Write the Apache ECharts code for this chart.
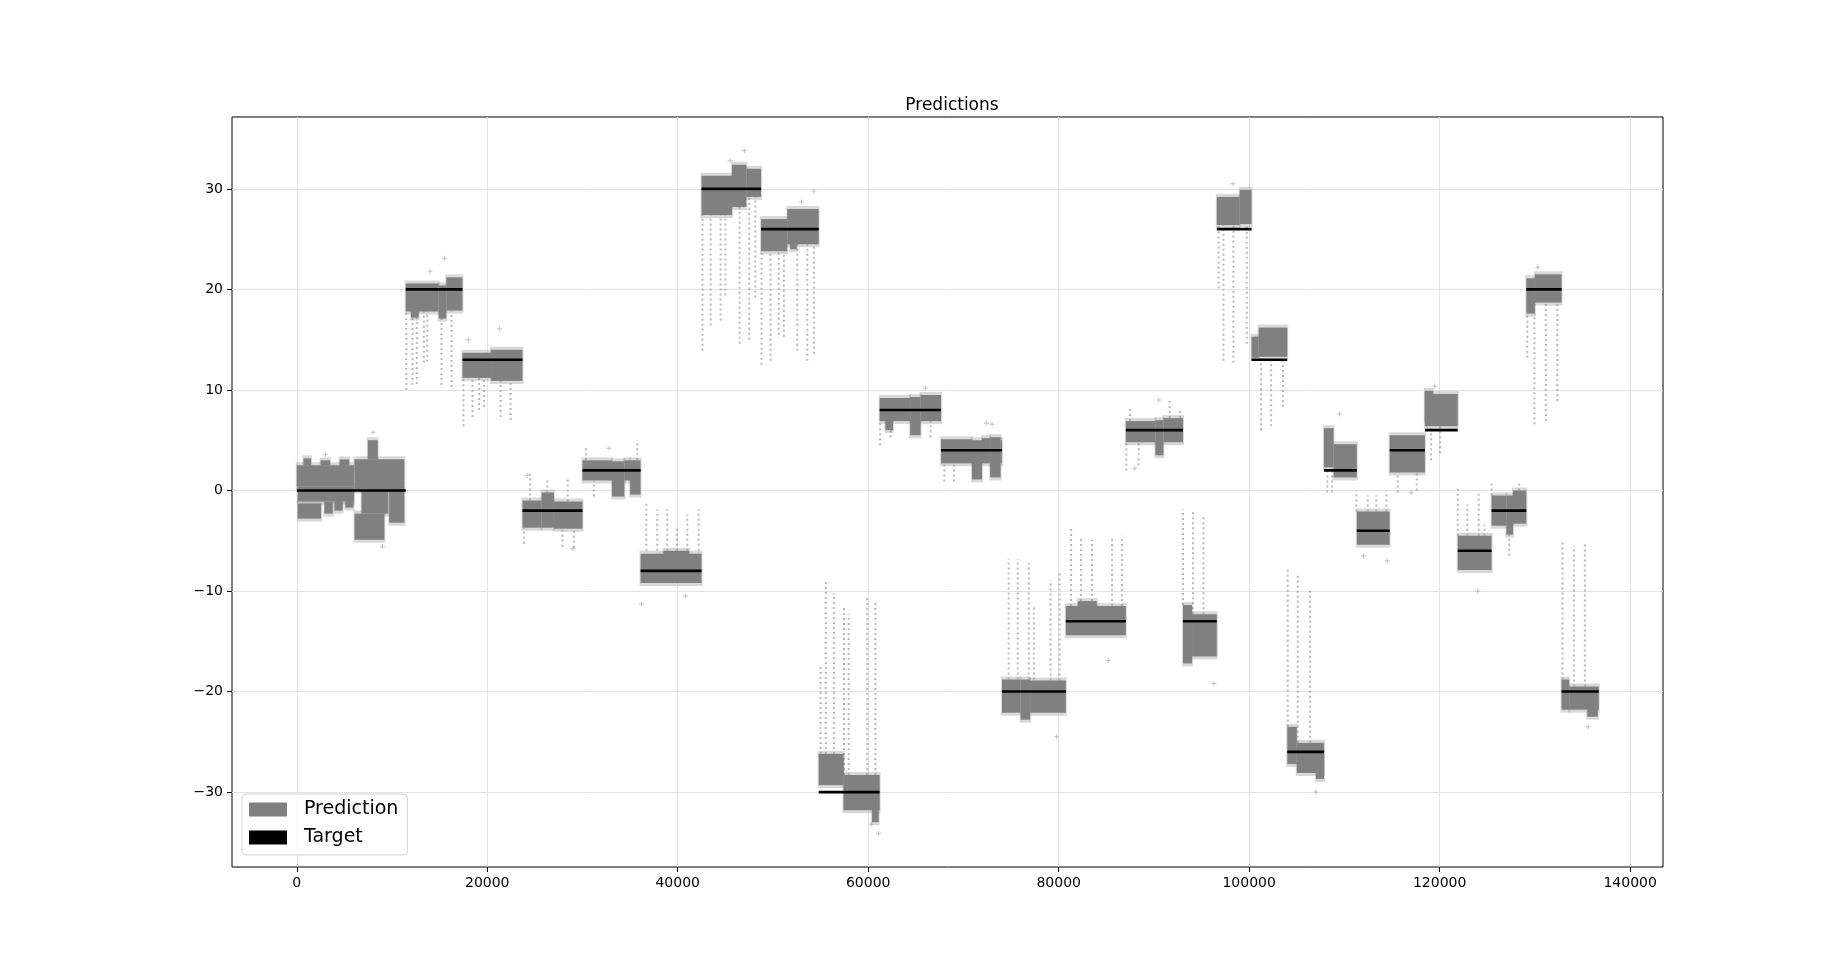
<!DOCTYPE html>
<html>

<head>
	<meta charset="UTF-8" />
	<title>Predictions</title>
	<style type="text/css">
		* {
			margin: 0;
			padding: 0;
		}

		#main {
			width: 1848px;
			height: 974px;
			background-color: #fff;
		}
	</style>
</head>

<body>
	<div id="main"></div>
</body>
<script src="https://cdn.jsdelivr.net/npm/echarts@6.0.0/dist/echarts.min.js"></script>
<script type="text/javascript">
	// tick labels
	var xTicks = [0, 20000, 40000, 60000, 80000, 100000, 120000, 140000]
	var yTicks = [-30, -20, -10, 0, 10, 20, 30]

	// target level per segment: [start, end, target]
	var segStart = [0, 11440, 17400, 23700, 30000, 36100, 42500, 48750, 54800, 61200, 67650, 74050, 80750,
		87050, 93050, 96600, 100250, 104000, 107850, 111300, 114750, 118450, 121900, 125450, 129100, 132800]
	var segEnd = [11440, 17400, 23700, 30000, 36100, 42500, 48750, 54800, 61200, 67650, 74050, 80750, 87050,
		93050, 96600, 100250, 104000, 107850, 111300, 114750, 118450, 121900, 125450, 129100, 132800, 136700]
	var targets = [0, 20, 13, -2, 2, -8, 30, 26, -30, 8, 4, -20, -13,
		6, -13, 26, 13, -26, 2, -4, 4, 6, -6, -2, 20, -20]

	// dense prediction bands: [x0, x1, low, high]
	var predBlocks = [
		// seg 1
		[0, 6000, 0.4, 2.5], [700, 1500, 2.5, 3.2], [2500, 3500, 2.5, 3.0], [4500, 5500, 2.5, 3.1],
		[100, 2560, -2.8, -1.3], [2900, 3780, -2.3, -1.1], [3950, 4820, -2.0, -0.9], [5100, 5960, -1.7, -0.5],
		[100, 6000, -1.1, 0.4],
		[6060, 11300, 0.0, 3.1], [6060, 9200, -4.9, -2.3], [6800, 9600, -2.3, 0.0], [7460, 8510, 3.1, 5.0],
		[9700, 11300, -3.2, 0.0],
		// seg 2
		[11440, 14900, 17.8, 20.6], [14900, 15700, 17.1, 20.4], [15700, 17400, 17.9, 21.2], [12000, 12800, 17.2, 18],
		// seg 3
		[17400, 20400, 11.2, 13.7], [20400, 23700, 10.9, 14.0],
		// seg 4
		[23700, 25700, -3.7, -1.0], [25700, 27000, -3.7, -0.2], [27000, 30000, -3.8, -1.1],
		// seg 5
		[30000, 33100, 1.0, 3.0], [33100, 34400, -0.6, 2.9], [34400, 35000, 1.0, 3.0], [35000, 36100, -0.4, 3.0],
		// seg 6
		[36100, 42500, -9.2, -6.3], [38500, 41200, -7.0, -6.0],
		// seg 7
		[42500, 45700, 27.4, 31.3], [45700, 47200, 28.2, 32.4], [47200, 48750, 29.2, 32.0],
		// seg 8
		[48750, 51500, 23.8, 27.0], [51500, 54800, 24.5, 28.0], [51800, 52500, 24.0, 25],
		// seg 9
		[54800, 57400, -29.3, -26.2], [57400, 61200, -31.8, -28.3], [56900, 57400, -29, -26.6], [60400, 61100, -33, -31],
		// seg 10
		[61200, 64400, 6.9, 9.2], [64400, 65500, 5.5, 9.3], [65500, 67650, 6.9, 9.5], [61800, 62600, 6.0, 7],
		// seg 11
		[67650, 70900, 2.7, 5.1], [70900, 71950, 1.1, 5.0], [71950, 72800, 2.7, 5.2], [72800, 73900, 1.3, 5.3],
		[73900, 74050, 2.7, 5.0],
		// seg 12
		[74050, 76000, -22.1, -18.8], [76000, 77000, -22.8, -18.8], [77000, 80750, -22.1, -18.9],
		// seg 13
		[80750, 87050, -14.4, -11.5], [82000, 84000, -11.5, -11.0],
		// seg 14
		[87050, 90150, 4.8, 6.9], [90150, 91000, 3.5, 7.0], [91000, 93050, 4.8, 7.2],
		// seg 15
		[93050, 94000, -17.2, -11.4], [94000, 96600, -16.5, -12.3],
		// seg 16
		[96600, 99000, 26.4, 29.2], [99000, 100250, 26.5, 29.9],
		// seg 17
		[100250, 101000, 13.2, 15.3], [101000, 104000, 13.3, 16.2],
		// seg 18
		[104000, 105000, -27.2, -23.5], [105000, 107850, -28.1, -25.1], [107000, 107850, -28.7, -26],
		// seg 19
		[107850, 108860, 2.3, 6.2], [108860, 111300, 1.3, 4.6],
		// seg 20
		[111300, 114750, -5.4, -2.1],
		// seg 21
		[114750, 118450, 1.8, 5.5],
		// seg 22
		[118450, 121900, 6.4, 9.6], [118450, 119300, 7.0, 9.9],
		// seg 23
		[121900, 125450, -7.9, -4.5],
		// seg 24
		[125450, 127000, -3.5, -0.5], [127000, 127700, -4.4, -0.5], [127700, 129100, -3.3, 0.0],
		// seg 25
		[129100, 130000, 17.6, 21.1], [130000, 132800, 18.7, 21.5],
		// seg 26
		[132800, 133600, -21.8, -18.8], [133600, 136700, -21.8, -19.5], [135500, 136600, -22.5, -20]
	]

	// sparse vertical streaks of predictions: [x, low, high]
	var streaks = [
		[11500, 10.0, 17.8], [12150, 10.5, 17.8], [12600, 10.6, 17.8], [13350, 12.7, 17.8], [13700, 12.8, 17.8],
		[15200, 10.5, 17.5], [16250, 10.3, 17.8],
		[17500, 6.4, 11.3], [18450, 7.3, 11.3], [19150, 8.0, 11.3], [19650, 8.3, 11.3], [21400, 7.3, 11], [22450, 7.0, 11],
		[24500, -1.0, 2.0], [26300, -0.2, 1.2], [28450, -1.1, 1.2], [23850, -5.3, -3.7], [27900, -5.6, -3.7], [29100, -5.7, -3.8],
		[31200, -0.6, 1.0], [35400, -0.3, 1.0], [30350, 3.0, 4.5], [35750, 3.0, 4.8],
		[36700, -6.5, -1.2], [37850, -6.5, -1.9], [38900, -6.5, -1.9], [39900, -6.5, -3.5], [41000, -6.5, -2.4], [42200, -6.5, -1.9],
		[42600, 13.9, 27.4], [43450, 16.4, 27.4], [44500, 16.9, 27.4], [45000, 19.4, 27.4], [46500, 14.6, 28.2],
		[47500, 15.0, 29.2], [48150, 19.2, 29.2],
		[48800, 12.5, 23.8], [49750, 12.9, 23.8], [50600, 15.5, 23.8], [51150, 15.3, 23.8], [52550, 13.9, 24.5],
		[53600, 12.9, 24.5], [54300, 13.6, 24.5],
		[55000, -26.2, -17.4], [55550, -26.2, -8.9], [56400, -26.2, -10.2], [57450, -28.3, -11.6], [57950, -28.3, -12.3],
		[59900, -28.3, -10.5], [60750, -28.3, -11.2],
		[61250, 4.5, 6.9], [62350, 5.3, 6.9], [66550, 5.3, 6.9],
		[68000, 0.9, 2.7], [69000, 0.9, 2.7],
		[74750, -18.8, -6.8], [75700, -18.8, -6.8], [76850, -18.8, -7.2], [77400, -18.8, -11.4], [79150, -18.9, -8.9],
		[80100, -18.9, -8.2],
		[81300, -11.5, -3.8], [82350, -11.5, -4.7], [83500, -11.5, -4.9], [85600, -11.5, -4.7], [86650, -11.5, -4.5],
		[87100, 2.0, 4.8], [88400, 2.5, 4.8], [87500, 6.9, 8.2], [91650, 7.2, 9.0], [92750, 7.2, 8.1],
		[93050, -11.4, -1.9], [94100, -12.3, -1.9], [95200, -12.3, -2.6],
		[96800, 20.1, 26.4], [97300, 12.9, 26.4], [98350, 12.7, 26.4], [99750, 14.6, 26.5],
		[101250, 6.0, 13.3], [102300, 6.4, 13.3], [103550, 8.3, 13.3],
		[104050, -23.5, -7.9], [105100, -25.1, -8.4], [106400, -25.1, -9.8],
		[108200, -0.2, 2.3], [108700, -0.2, 2.3],
		[111250, -2.1, 0], [112450, -2.1, -0.5], [113350, -2.1, -0.5], [114400, -2.1, 0],
		[115600, -0.2, 1.8], [117600, 0.0, 1.8],
		[119100, 3.0, 6.4], [120050, 3.7, 6.4],
		[121900, -4.5, 0.2], [122900, -4.5, -1.4], [124100, -4.5, -0.3], [124700, -4.5, -3.4],
		[125450, -0.5, 0.9], [128350, 0, 0.9], [127300, -6.5, -4.4],
		[129200, 13.2, 17.6], [129950, 6.6, 17.6], [131150, 6.9, 18.7], [132350, 8.9, 18.7],
		[132900, -18.8, -4.9], [134100, -19.5, -5.5], [135250, -19.5, -5.1]
	]

	// isolated prediction points: [x, y]
	var strayPoints = [
		[15500, 23.1], [14000, 21.8], [21300, 16.1], [18000, 15.0], [24200, 1.5], [29000, -5.8],
		[32800, 4.2], [36200, -11.3], [40800, -10.5], [47000, 33.8], [45500, 32.8], [54300, 29.8],
		[53000, 28.7], [61100, -34.1], [60300, -33.2], [66000, 10.2], [73000, 6.6], [72400, 6.7],
		[79800, -24.5], [85200, -16.9], [90500, 9.0], [88000, 2.2], [96300, -19.2], [98300, 30.5],
		[107000, -30.0], [109500, 7.6], [114500, -7.0], [112000, -6.5], [117000, -0.2], [119500, 10.4],
		[124000, -10.0], [130300, 22.2], [135600, -23.5], [3000, 3.6], [8000, 5.8], [9000, -5.6]
	]

	var targetData = segStart.map(function (s, i) {
		return [s, segEnd[i], targets[i]]
	})

	var myChart = echarts.init(document.getElementById('main'))

	function minusSign(v) {
		return v < 0 ? '\u2212' + Math.abs(v) : String(v)
	}

	var font = 'DejaVu Sans'
	var plusSymbol = 'path://M2,0h1v2h2v1h-2v2h-1v-2h-2v-1h2z'

	var option = {
		backgroundColor: '#fff',
		animation: false,
		title: {
			text: 'Predictions',
			left: 947,
			top: 92,
			textAlign: 'center',
			textStyle: {
				fontFamily: font,
				fontSize: 17,
				fontWeight: 'normal',
				color: '#000'
			}
		},
		legend: {
			orient: 'vertical',
			left: 242,
			top: 794,
			itemWidth: 38,
			itemHeight: 14,
			itemGap: 9,
			padding: [6, 9, 8, 7],
			borderColor: '#d3d3d3',
			borderWidth: 1,
			borderRadius: 4,
			backgroundColor: 'rgba(255,255,255,0.8)',
			textStyle: {
				fontFamily: font,
				fontSize: 19,
				color: '#000',
				padding: [0, 0, 0, 12]
			},
			data: [{ name: 'Prediction', icon: 'rect' }, { name: 'Target', icon: 'rect' }]
		},
		grid: {
			left: 232,
			right: 185,
			top: 117,
			bottom: 107,
			show: true,
			borderColor: '#000',
			borderWidth: 1,
			backgroundColor: 'transparent'
		},
		xAxis: {
			type: 'value',
			min: -6800,
			max: 143450,
			axisLine: { show: false, onZero: false },
			axisTick: {
				show: true,
				customValues: xTicks,
				length: 5,
				lineStyle: { color: '#000' }
			},
			axisLabel: {
				customValues: xTicks,
				margin: 9,
				fontFamily: font,
				fontSize: 14,
				color: '#000',
				formatter: function (v) { return String(v) }
			},
			splitLine: {
				show: true,
				lineStyle: { color: '#e3e3e3', width: 1 }
			}
		},
		yAxis: {
			type: 'value',
			min: -37.45,
			max: 37.15,
			axisLine: { show: false, onZero: false },
			axisTick: {
				show: true,
				customValues: yTicks,
				length: 5,
				lineStyle: { color: '#000' }
			},
			axisLabel: {
				customValues: yTicks,
				margin: 9,
				fontFamily: font,
				fontSize: 14,
				color: '#000',
				formatter: minusSign
			},
			splitLine: {
				show: true,
				lineStyle: { color: '#e3e3e3', width: 1 }
			}
		},
		series: [{
			// sparse streaks
			type: 'custom',
			name: 'streaks',
			silent: true,
			z: 2,
			renderItem: function (params, api) {
				var a = api.coord([api.value(0), api.value(1)])
				var b = api.coord([api.value(0), api.value(2)])
				return {
					type: 'line',
					shape: { x1: a[0], y1: a[1], x2: b[0], y2: b[1] },
					style: {
						stroke: 'rgba(128,128,128,0.55)',
						lineWidth: 2,
						lineDash: [2, 3]
					}
				}
			},
			encode: { x: 0, y: [1, 2] },
			data: streaks
		}, {
			type: 'scatter',
			name: 'stray',
			silent: true,
			z: 2,
			symbol: plusSymbol,
			symbolSize: 5,
			itemStyle: { color: 'rgba(128,128,128,0.6)' },
			data: strayPoints
		}, {
			type: 'custom',
			name: 'Prediction',
			z: 3,
			itemStyle: { color: '#808080' },
			renderItem: function (params, api) {
				var p0 = api.coord([api.value(0), api.value(3)])
				var p1 = api.coord([api.value(1), api.value(2)])
				var w = p1[0] - p0[0]
				var h = p1[1] - p0[1]
				return {
					type: 'group',
					children: [{
						type: 'rect',
						shape: { x: p0[0] - 1, y: p0[1] - 3, width: w + 2, height: h + 6 },
						style: { fill: 'rgba(128,128,128,0.3)' }
					}, {
						type: 'rect',
						shape: { x: p0[0], y: p0[1], width: w, height: h },
						style: { fill: '#808080' }
					}]
				}
			},
			encode: { x: [0, 1], y: [2, 3] },
			data: predBlocks
		}, {
			type: 'custom',
			name: 'Target',
			z: 4,
			itemStyle: { color: '#000' },
			renderItem: function (params, api) {
				var a = api.coord([api.value(0), api.value(2)])
				var b = api.coord([api.value(1), api.value(2)])
				return {
					type: 'line',
					shape: { x1: a[0], y1: a[1], x2: b[0], y2: b[1] },
					style: { stroke: '#000', lineWidth: 2.6 }
				}
			},
			encode: { x: [0, 1], y: 2 },
			data: targetData
		}]
	}
	myChart.setOption(option)
</script>

</html>
